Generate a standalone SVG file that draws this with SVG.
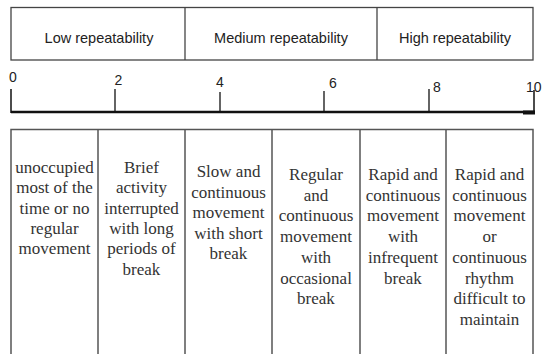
<svg xmlns="http://www.w3.org/2000/svg" width="543" height="354" viewBox="0 0 543 354">
<style>
.box{fill:none;stroke:#444;stroke-width:1.3}
.col{fill:none;stroke:#555;stroke-width:1.5}
.hdr{font-family:"Liberation Sans",Arial,sans-serif;font-size:14.5px;fill:#222;text-anchor:middle}
.num{font-family:"Liberation Sans",Arial,sans-serif;font-size:14px;fill:#222}
.body{font-family:"Liberation Serif","Times New Roman",serif;font-size:17px;fill:#333;text-anchor:middle}
.axis{stroke:#111;fill:none}
</style>
<rect width="543" height="354" fill="#fff"/>
<g id="header">
  <rect class="box" x="11" y="7.5" width="522" height="52.5"/>
  <line class="box" x1="185" y1="7.5" x2="185" y2="60"/>
  <line class="box" x1="377" y1="7.5" x2="377" y2="60"/>
  <text class="hdr" x="99" y="43">Low repeatability</text>
  <text class="hdr" x="281" y="43">Medium repeatability</text>
  <text class="hdr" x="455" y="43">High repeatability</text>
</g>
<g id="scale">
  <line class="axis" x1="11" y1="112" x2="535" y2="112" stroke-width="2.5"/>
  <line class="axis" x1="523" y1="112.5" x2="535" y2="112.5" stroke-width="4"/>
  <line class="axis" x1="11" y1="89" x2="11" y2="113" stroke-width="1.5"/>
  <line class="axis" x1="115" y1="89" x2="115" y2="112" stroke-width="1.3"/>
  <line class="axis" x1="220" y1="92" x2="220" y2="112" stroke-width="1.3"/>
  <line class="axis" x1="324" y1="91" x2="324" y2="112" stroke-width="1.3"/>
  <line class="axis" x1="429" y1="89" x2="429" y2="112" stroke-width="1.3"/>
  <line class="axis" x1="534" y1="90" x2="534" y2="113" stroke-width="1.5"/>
  <text class="num" x="9" y="81.5">0</text>
  <text class="num" x="114.5" y="84.5">2</text>
  <text class="num" x="216" y="86.5">4</text>
  <text class="num" x="329" y="87.5">6</text>
  <text class="num" x="433" y="91.5">8</text>
  <text class="num" x="526" y="91.5">10</text>
</g>
<g id="columns">
  <polyline class="col" points="11,354 11,129.5 533,129.5 533,354"/>
  <line class="col" x1="98" y1="129.5" x2="98" y2="354"/>
  <line class="col" x1="185" y1="129.5" x2="185" y2="354"/>
  <line class="col" x1="272" y1="129.5" x2="272" y2="354"/>
  <line class="col" x1="360" y1="129.5" x2="360" y2="354"/>
  <line class="col" x1="446" y1="129.5" x2="446" y2="354"/>
</g>
<g id="col1">
  <text class="body" x="54.5" y="173"><tspan x="54.5">unoccupied</tspan><tspan x="54.5" dy="20.3">most of the</tspan><tspan x="54.5" dy="20.3">time or no</tspan><tspan x="54.5" dy="20.3">regular</tspan><tspan x="54.5" dy="20.3">movement</tspan></text>
</g>
<g id="col2">
  <text class="body" x="141.5" y="173"><tspan x="141.5">Brief</tspan><tspan x="141.5" dy="20.3">activity</tspan><tspan x="141.5" dy="20.3">interrupted</tspan><tspan x="141.5" dy="20.3">with long</tspan><tspan x="141.5" dy="20.3">periods of</tspan><tspan x="141.5" dy="20.3">break</tspan></text>
</g>
<g id="col3">
  <text class="body" x="228.5" y="177"><tspan x="228.5">Slow and</tspan><tspan x="228.5" dy="20.5">continuous</tspan><tspan x="228.5" dy="20.5">movement</tspan><tspan x="228.5" dy="20.5">with short</tspan><tspan x="228.5" dy="20.5">break</tspan></text>
</g>
<g id="col4">
  <text class="body" x="316" y="180"><tspan x="316">Regular</tspan><tspan x="316" dy="20.7">and</tspan><tspan x="316" dy="20.7">continuous</tspan><tspan x="316" dy="20.7">movement</tspan><tspan x="316" dy="20.7">with</tspan><tspan x="316" dy="20.7">occasional</tspan><tspan x="316" dy="20.7">break</tspan></text>
</g>
<g id="col5">
  <text class="body" x="403" y="180"><tspan x="403">Rapid and</tspan><tspan x="403" dy="20.7">continuous</tspan><tspan x="403" dy="20.7">movement</tspan><tspan x="403" dy="20.7">with</tspan><tspan x="403" dy="20.7">infrequent</tspan><tspan x="403" dy="20.7">break</tspan></text>
</g>
<g id="col6">
  <text class="body" x="489.5" y="180"><tspan x="489.5">Rapid and</tspan><tspan x="489.5" dy="20.7">continuous</tspan><tspan x="489.5" dy="20.7">movement</tspan><tspan x="489.5" dy="20.7">or</tspan><tspan x="489.5" dy="20.7">continuous</tspan><tspan x="489.5" dy="20.7">rhythm</tspan><tspan x="489.5" dy="20.7">difficult to</tspan><tspan x="489.5" dy="20.7">maintain</tspan></text>
</g>
</svg>
